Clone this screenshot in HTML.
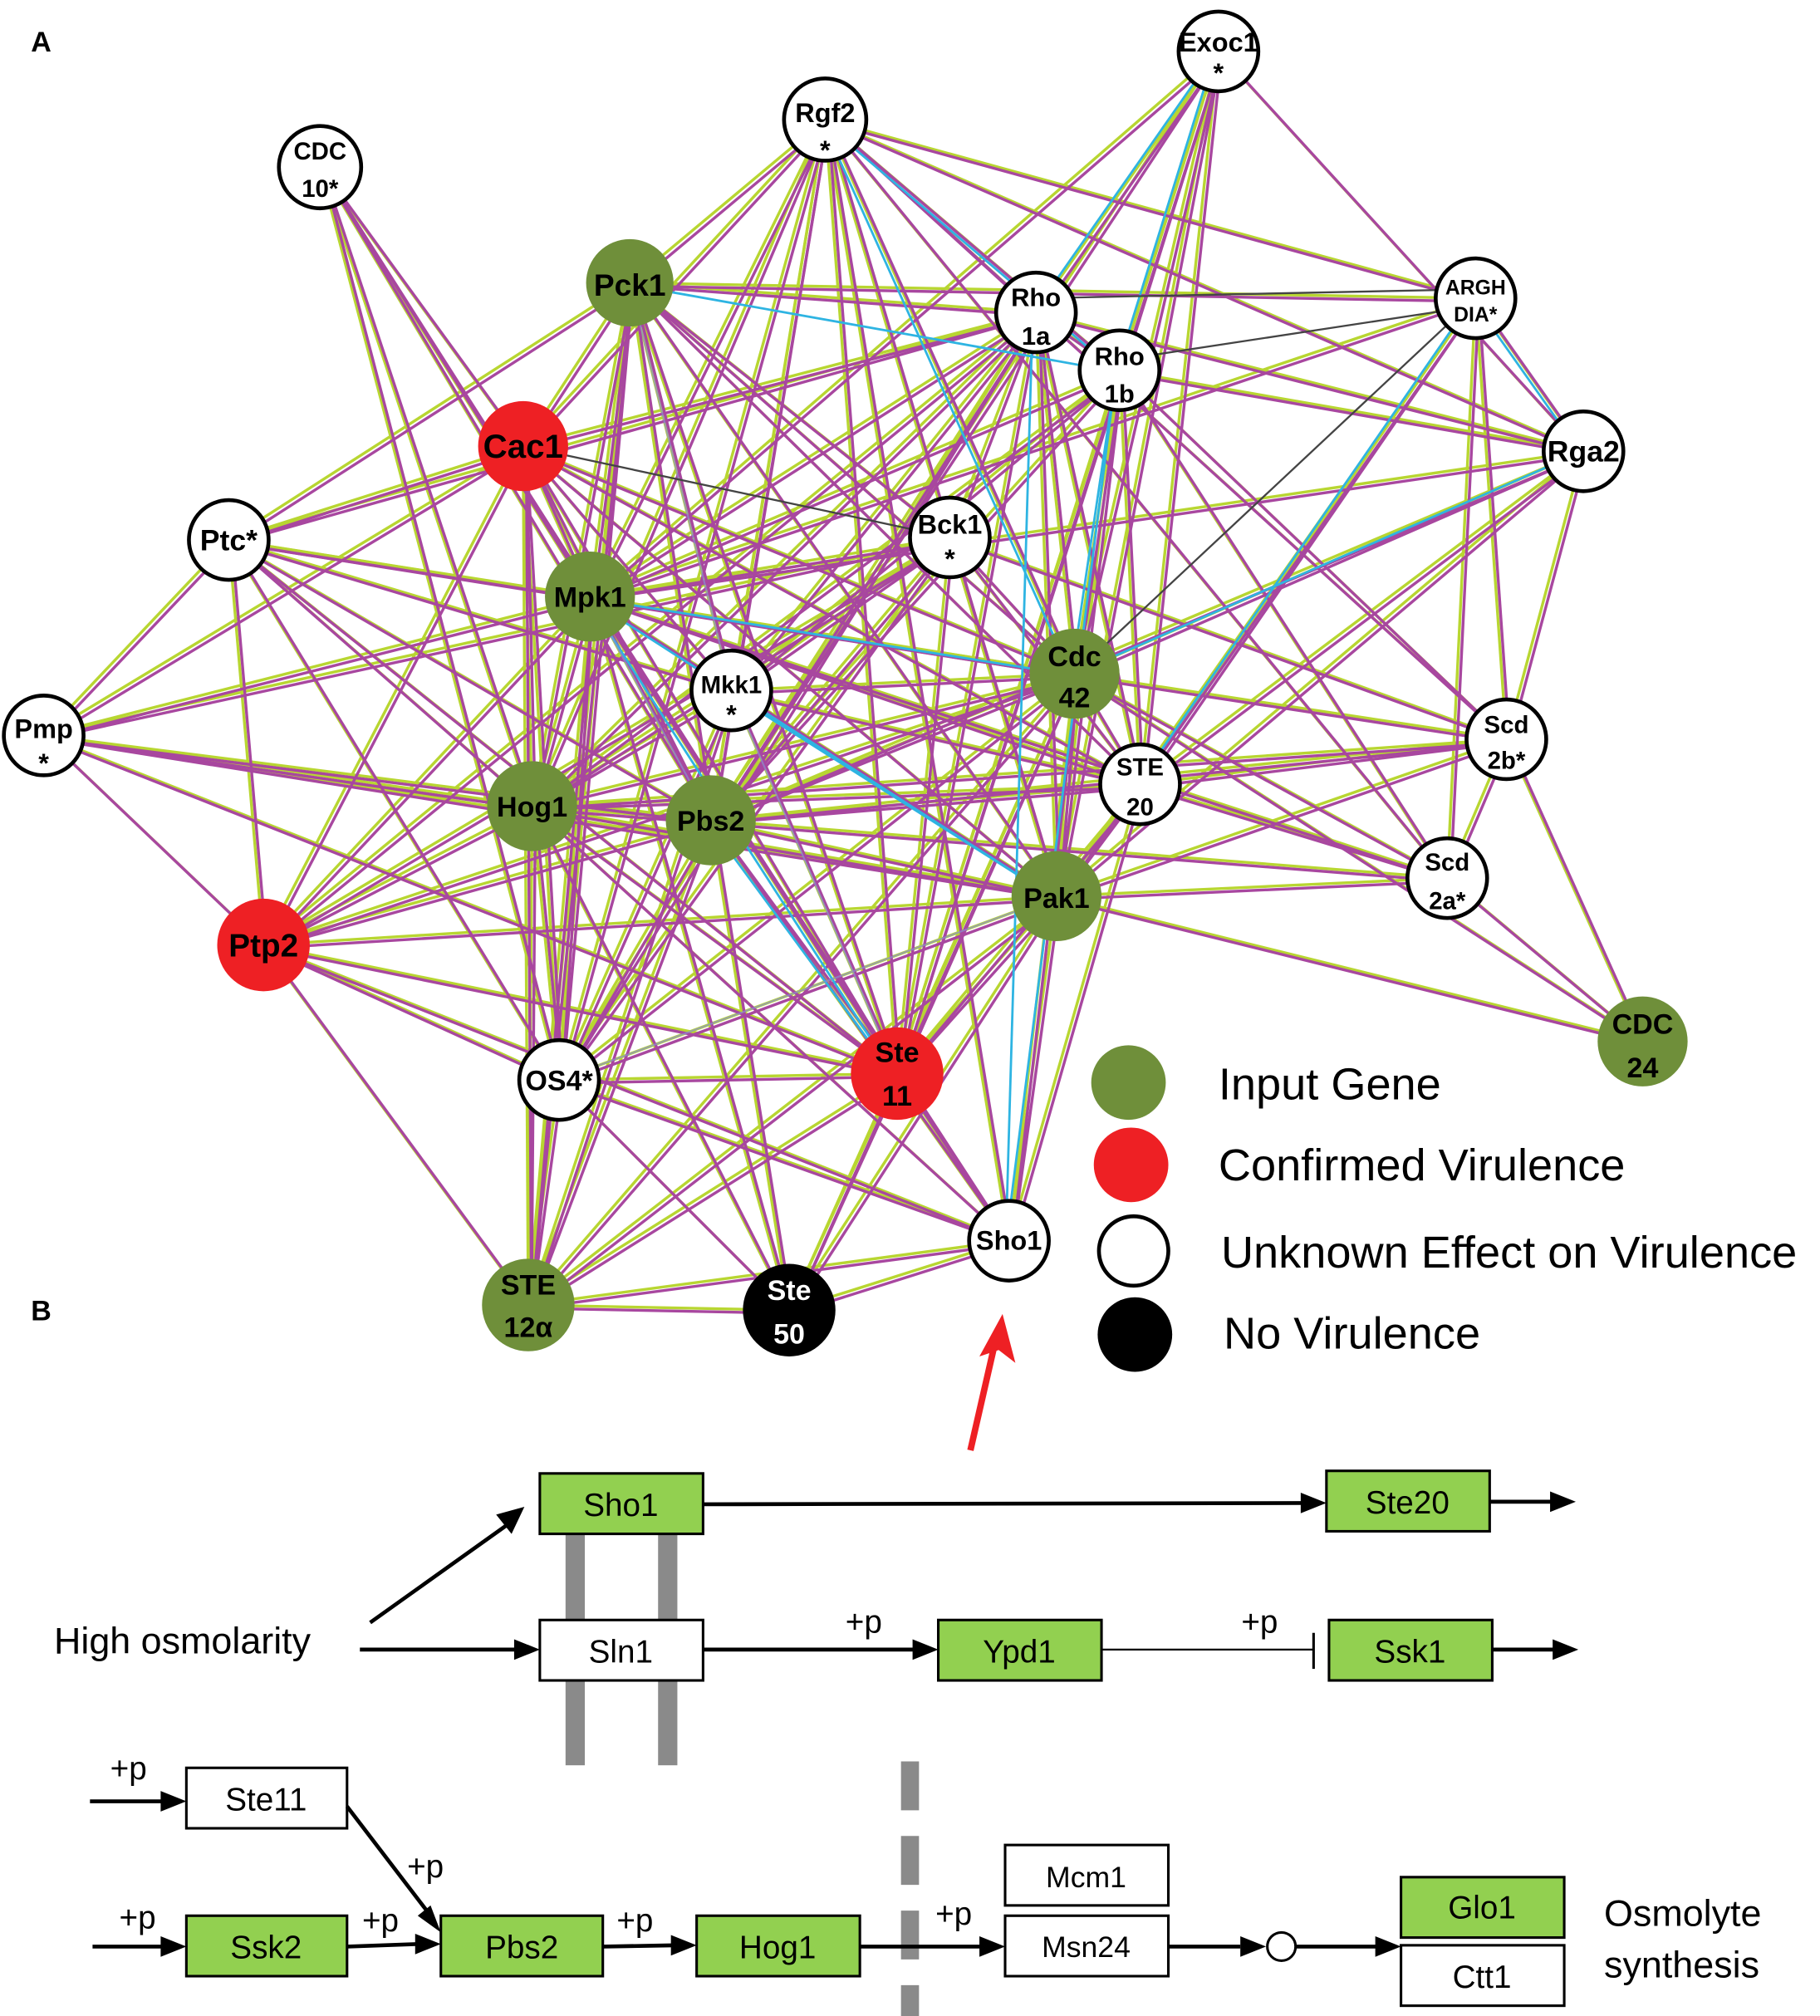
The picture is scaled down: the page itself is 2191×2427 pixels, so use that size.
<!DOCTYPE html>
<html><head><meta charset="utf-8"><style>html,body{margin:0;padding:0;background:#fff}svg{display:block}</style></head>
<body>
<svg width="2191" height="2427" viewBox="0 0 1416 1568" preserveAspectRatio="none" xmlns="http://www.w3.org/2000/svg" font-family="Liberation Sans, sans-serif">
<defs>
<g id="E">
<line x1="948" y1="40" x2="806" y2="243"/><line x1="948" y1="40" x2="871" y2="288"/><line x1="948" y1="40" x2="836" y2="524"/><line x1="948" y1="40" x2="822" y2="697"/><line x1="948" y1="40" x2="887" y2="610"/><line x1="948" y1="40" x2="459" y2="464"/><line x1="948" y1="40" x2="553" y2="638"/><line x1="948" y1="40" x2="698" y2="835"/><line x1="948" y1="40" x2="1232" y2="351"/>
<line x1="642" y1="93" x2="490" y2="220"/><line x1="642" y1="93" x2="806" y2="243"/><line x1="642" y1="93" x2="871" y2="288"/><line x1="642" y1="93" x2="1232" y2="351"/><line x1="642" y1="93" x2="1148" y2="232"/><line x1="642" y1="93" x2="836" y2="524"/><line x1="642" y1="93" x2="822" y2="697"/><line x1="642" y1="93" x2="459" y2="464"/><line x1="642" y1="93" x2="569" y2="537"/><line x1="642" y1="93" x2="553" y2="638"/><line x1="642" y1="93" x2="414" y2="627"/><line x1="642" y1="93" x2="698" y2="835"/><line x1="642" y1="93" x2="407" y2="347"/><line x1="642" y1="93" x2="785" y2="965"/><line x1="642" y1="93" x2="435" y2="840"/><line x1="642" y1="93" x2="1126" y2="683"/><line x1="642" y1="93" x2="1172" y2="575"/>
<line x1="249" y1="130" x2="407" y2="347"/><line x1="249" y1="130" x2="459" y2="464"/><line x1="249" y1="130" x2="414" y2="627"/><line x1="249" y1="130" x2="553" y2="638"/><line x1="249" y1="130" x2="435" y2="840"/><line x1="249" y1="130" x2="698" y2="835"/>
<line x1="490" y1="220" x2="806" y2="243"/><line x1="490" y1="220" x2="1148" y2="232"/><line x1="490" y1="220" x2="407" y2="347"/><line x1="490" y1="220" x2="459" y2="464"/><line x1="490" y1="220" x2="569" y2="537"/><line x1="490" y1="220" x2="553" y2="638"/><line x1="490" y1="220" x2="414" y2="627"/><line x1="490" y1="220" x2="836" y2="524"/><line x1="490" y1="220" x2="822" y2="697"/><line x1="490" y1="220" x2="698" y2="835"/><line x1="490" y1="220" x2="739" y2="418"/><line x1="490" y1="220" x2="887" y2="610"/><line x1="490" y1="220" x2="435" y2="840"/><line x1="490" y1="220" x2="411" y2="1015"/><line x1="490" y1="220" x2="178" y2="420"/>
<line x1="806" y1="243" x2="871" y2="288"/><line x1="806" y1="243" x2="1232" y2="351"/><line x1="806" y1="243" x2="407" y2="347"/><line x1="806" y1="243" x2="459" y2="464"/><line x1="806" y1="243" x2="569" y2="537"/><line x1="806" y1="243" x2="553" y2="638"/><line x1="806" y1="243" x2="414" y2="627"/><line x1="806" y1="243" x2="836" y2="524"/><line x1="806" y1="243" x2="822" y2="697"/><line x1="806" y1="243" x2="698" y2="835"/><line x1="806" y1="243" x2="435" y2="840"/><line x1="806" y1="243" x2="205" y2="735"/><line x1="806" y1="243" x2="178" y2="420"/><line x1="806" y1="243" x2="887" y2="610"/><line x1="806" y1="243" x2="739" y2="418"/>
<line x1="871" y1="288" x2="1232" y2="351"/><line x1="871" y1="288" x2="836" y2="524"/><line x1="871" y1="288" x2="887" y2="610"/><line x1="871" y1="288" x2="822" y2="697"/><line x1="871" y1="288" x2="459" y2="464"/><line x1="871" y1="288" x2="414" y2="627"/><line x1="871" y1="288" x2="553" y2="638"/><line x1="871" y1="288" x2="698" y2="835"/><line x1="871" y1="288" x2="569" y2="537"/><line x1="871" y1="288" x2="1126" y2="683"/><line x1="871" y1="288" x2="1172" y2="575"/>
<line x1="1148" y1="232" x2="1232" y2="351"/><line x1="1148" y1="232" x2="887" y2="610"/><line x1="1148" y1="232" x2="1172" y2="575"/><line x1="1148" y1="232" x2="1126" y2="683"/><line x1="1148" y1="232" x2="822" y2="697"/><line x1="1148" y1="232" x2="459" y2="464"/>
<line x1="1232" y1="351" x2="836" y2="524"/><line x1="1232" y1="351" x2="887" y2="610"/><line x1="1232" y1="351" x2="1172" y2="575"/><line x1="1232" y1="351" x2="553" y2="638"/><line x1="1232" y1="351" x2="459" y2="464"/><line x1="1232" y1="351" x2="822" y2="697"/>
<line x1="407" y1="347" x2="459" y2="464"/><line x1="407" y1="347" x2="569" y2="537"/><line x1="407" y1="347" x2="414" y2="627"/><line x1="407" y1="347" x2="553" y2="638"/><line x1="407" y1="347" x2="836" y2="524"/><line x1="407" y1="347" x2="822" y2="697"/><line x1="407" y1="347" x2="698" y2="835"/><line x1="407" y1="347" x2="435" y2="840"/><line x1="407" y1="347" x2="178" y2="420"/><line x1="407" y1="347" x2="205" y2="735"/><line x1="407" y1="347" x2="411" y2="1015"/><line x1="407" y1="347" x2="34" y2="572"/><line x1="407" y1="347" x2="887" y2="610"/>
<line x1="178" y1="420" x2="459" y2="464"/><line x1="178" y1="420" x2="414" y2="627"/><line x1="178" y1="420" x2="553" y2="638"/><line x1="178" y1="420" x2="698" y2="835"/><line x1="178" y1="420" x2="836" y2="524"/><line x1="178" y1="420" x2="205" y2="735"/><line x1="178" y1="420" x2="435" y2="840"/><line x1="178" y1="420" x2="34" y2="572"/><line x1="178" y1="420" x2="569" y2="537"/>
<line x1="739" y1="418" x2="459" y2="464"/><line x1="739" y1="418" x2="569" y2="537"/><line x1="739" y1="418" x2="414" y2="627"/><line x1="739" y1="418" x2="553" y2="638"/><line x1="739" y1="418" x2="836" y2="524"/><line x1="739" y1="418" x2="822" y2="697"/><line x1="739" y1="418" x2="698" y2="835"/><line x1="739" y1="418" x2="887" y2="610"/><line x1="739" y1="418" x2="34" y2="572"/><line x1="739" y1="418" x2="205" y2="735"/><line x1="739" y1="418" x2="435" y2="840"/><line x1="739" y1="418" x2="1172" y2="575"/>
<line x1="459" y1="464" x2="569" y2="537"/><line x1="459" y1="464" x2="414" y2="627"/><line x1="459" y1="464" x2="553" y2="638"/><line x1="459" y1="464" x2="836" y2="524"/><line x1="459" y1="464" x2="822" y2="697"/><line x1="459" y1="464" x2="698" y2="835"/><line x1="459" y1="464" x2="887" y2="610"/><line x1="459" y1="464" x2="435" y2="840"/><line x1="459" y1="464" x2="411" y2="1015"/><line x1="459" y1="464" x2="205" y2="735"/><line x1="459" y1="464" x2="34" y2="572"/><line x1="459" y1="464" x2="614" y2="1019"/><line x1="459" y1="464" x2="785" y2="965"/><line x1="459" y1="464" x2="1126" y2="683"/>
<line x1="836" y1="524" x2="569" y2="537"/><line x1="836" y1="524" x2="414" y2="627"/><line x1="836" y1="524" x2="553" y2="638"/><line x1="836" y1="524" x2="822" y2="697"/><line x1="836" y1="524" x2="887" y2="610"/><line x1="836" y1="524" x2="698" y2="835"/><line x1="836" y1="524" x2="1172" y2="575"/><line x1="836" y1="524" x2="1126" y2="683"/><line x1="836" y1="524" x2="1278" y2="810"/><line x1="836" y1="524" x2="435" y2="840"/><line x1="836" y1="524" x2="205" y2="735"/><line x1="836" y1="524" x2="411" y2="1015"/><line x1="836" y1="524" x2="614" y2="1019"/><line x1="836" y1="524" x2="785" y2="965"/>
<line x1="569" y1="537" x2="414" y2="627"/><line x1="569" y1="537" x2="553" y2="638"/><line x1="569" y1="537" x2="822" y2="697"/><line x1="569" y1="537" x2="698" y2="835"/><line x1="569" y1="537" x2="435" y2="840"/><line x1="569" y1="537" x2="411" y2="1015"/><line x1="569" y1="537" x2="887" y2="610"/>
<line x1="34" y1="572" x2="414" y2="627"/><line x1="34" y1="572" x2="553" y2="638"/><line x1="34" y1="572" x2="205" y2="735"/><line x1="34" y1="572" x2="698" y2="835"/><line x1="34" y1="572" x2="822" y2="697"/>
<line x1="1172" y1="575" x2="887" y2="610"/><line x1="1172" y1="575" x2="1126" y2="683"/><line x1="1172" y1="575" x2="1278" y2="810"/><line x1="1172" y1="575" x2="822" y2="697"/><line x1="1172" y1="575" x2="553" y2="638"/><line x1="1172" y1="575" x2="414" y2="627"/>
<line x1="887" y1="610" x2="822" y2="697"/><line x1="887" y1="610" x2="698" y2="835"/><line x1="887" y1="610" x2="785" y2="965"/><line x1="887" y1="610" x2="414" y2="627"/><line x1="887" y1="610" x2="553" y2="638"/><line x1="887" y1="610" x2="1126" y2="683"/>
<line x1="414" y1="627" x2="553" y2="638"/><line x1="414" y1="627" x2="822" y2="697"/><line x1="414" y1="627" x2="698" y2="835"/><line x1="414" y1="627" x2="435" y2="840"/><line x1="414" y1="627" x2="411" y2="1015"/><line x1="414" y1="627" x2="614" y2="1019"/><line x1="414" y1="627" x2="785" y2="965"/><line x1="414" y1="627" x2="205" y2="735"/>
<line x1="553" y1="638" x2="822" y2="697"/><line x1="553" y1="638" x2="698" y2="835"/><line x1="553" y1="638" x2="435" y2="840"/><line x1="553" y1="638" x2="411" y2="1015"/><line x1="553" y1="638" x2="614" y2="1019"/><line x1="553" y1="638" x2="785" y2="965"/><line x1="553" y1="638" x2="205" y2="735"/><line x1="553" y1="638" x2="1126" y2="683"/>
<line x1="1126" y1="683" x2="822" y2="697"/><line x1="1126" y1="683" x2="1278" y2="810"/>
<line x1="822" y1="697" x2="698" y2="835"/><line x1="822" y1="697" x2="435" y2="840"/><line x1="822" y1="697" x2="411" y2="1015"/><line x1="822" y1="697" x2="614" y2="1019"/><line x1="822" y1="697" x2="785" y2="965"/><line x1="822" y1="697" x2="205" y2="735"/><line x1="822" y1="697" x2="1278" y2="810"/>
<line x1="205" y1="735" x2="435" y2="840"/><line x1="205" y1="735" x2="698" y2="835"/><line x1="205" y1="735" x2="411" y2="1015"/><line x1="205" y1="735" x2="785" y2="965"/>
<line x1="698" y1="835" x2="435" y2="840"/><line x1="698" y1="835" x2="411" y2="1015"/><line x1="698" y1="835" x2="614" y2="1019"/><line x1="698" y1="835" x2="785" y2="965"/>
<line x1="435" y1="840" x2="411" y2="1015"/><line x1="435" y1="840" x2="614" y2="1019"/><line x1="435" y1="840" x2="785" y2="965"/>
<line x1="785" y1="965" x2="411" y2="1015"/><line x1="785" y1="965" x2="614" y2="1019"/><line x1="411" y1="1015" x2="614" y2="1019"/>
</g>
<g id="C">
<line x1="948" y1="40" x2="806" y2="243"/><line x1="948" y1="40" x2="871" y2="288"/><line x1="642" y1="93" x2="836" y2="524"/><line x1="642" y1="93" x2="871" y2="288"/><line x1="490" y1="220" x2="871" y2="288"/><line x1="871" y1="288" x2="785" y2="965"/><line x1="806" y1="243" x2="785" y2="965"/><line x1="1148" y1="232" x2="1232" y2="351"/><line x1="1148" y1="232" x2="887" y2="610"/><line x1="1232" y1="351" x2="836" y2="524"/><line x1="459" y1="464" x2="836" y2="524"/><line x1="459" y1="464" x2="822" y2="697"/><line x1="459" y1="464" x2="698" y2="835"/><line x1="569" y1="537" x2="822" y2="697"/><line x1="871" y1="288" x2="836" y2="524"/><line x1="553" y1="638" x2="698" y2="835"/>
</g>
</defs>
<g stroke="#b8d631" stroke-width="2.2" fill="none"><use href="#E"/></g>
<g stroke="#a8479f" stroke-width="2.2" fill="none"><use href="#E" transform="translate(2.5,2.5)"/></g>
<g stroke="#2eb4e2" stroke-width="1.8" fill="none"><use href="#C" transform="translate(-2.5,1)"/></g>
<g stroke="#8b8fd0" stroke-width="1.4" fill="none" opacity="0.7"><line x1="459" y1="464" x2="553" y2="638"/><line x1="490" y1="220" x2="569" y2="537"/><line x1="569" y1="537" x2="698" y2="835"/><line x1="435" y1="840" x2="822" y2="697"/></g>
<g stroke="#444" stroke-width="1.5"><line x1="806" y1="232" x2="1148" y2="225"/><line x1="871" y1="280" x2="1148" y2="238"/><line x1="407" y1="347" x2="739" y2="418"/><line x1="836" y1="524" x2="1148" y2="232"/></g>

<g stroke="#000" stroke-width="3" font-weight="bold" font-size="21" text-anchor="middle">
<circle cx="948" cy="40" r="31" fill="#fff"/><circle cx="642" cy="93" r="32" fill="#fff"/><circle cx="249" cy="130" r="32" fill="#fff"/>
<circle cx="490" cy="220" r="34" fill="#6f8f3a" stroke="none"/>
<circle cx="806" cy="243" r="31" fill="#fff"/><circle cx="1148" cy="232" r="31" fill="#fff"/><circle cx="871" cy="288" r="31" fill="#fff"/><circle cx="1232" cy="351" r="31" fill="#fff"/>
<circle cx="407" cy="347" r="35" fill="#ee2024" stroke="none"/>
<circle cx="178" cy="420" r="31" fill="#fff"/><circle cx="739" cy="418" r="31" fill="#fff"/>
<circle cx="459" cy="464" r="35" fill="#6f8f3a" stroke="none"/><circle cx="836" cy="524" r="35" fill="#6f8f3a" stroke="none"/>
<circle cx="569" cy="537" r="31" fill="#fff"/><circle cx="34" cy="572" r="31" fill="#fff"/><circle cx="1172" cy="575" r="31" fill="#fff"/><circle cx="887" cy="610" r="31" fill="#fff"/>
<circle cx="414" cy="627" r="35" fill="#6f8f3a" stroke="none"/><circle cx="553" cy="638" r="35" fill="#6f8f3a" stroke="none"/>
<circle cx="1126" cy="683" r="31" fill="#fff"/>
<circle cx="822" cy="697" r="35" fill="#6f8f3a" stroke="none"/><circle cx="205" cy="735" r="36" fill="#ee2024" stroke="none"/>
<circle cx="1278" cy="810" r="35" fill="#6f8f3a" stroke="none"/><circle cx="698" cy="835" r="36" fill="#ee2024" stroke="none"/>
<circle cx="435" cy="840" r="31" fill="#fff"/><circle cx="785" cy="965" r="31" fill="#fff"/>
<circle cx="411" cy="1015" r="36" fill="#6f8f3a" stroke="none"/><circle cx="614" cy="1019" r="36" fill="#000" stroke="none"/>
</g>
<g font-weight="bold" font-size="21" text-anchor="middle" fill="#000">
<text x="948" y="40">Exoc1</text><text x="948" y="64">*</text>
<text x="642" y="95">Rgf2</text><text x="642" y="124">*</text>
<text x="249" y="124" font-size="19">CDC</text><text x="249" y="153" font-size="19">10*</text>
<text x="490" y="230" font-size="24">Pck1</text>
<text x="806" y="238" font-size="20">Rho</text><text x="806" y="268" font-size="20">1a</text>
<text x="1148" y="229" font-size="16">ARGH</text><text x="1148" y="250" font-size="16">DIA*</text>
<text x="871" y="284" font-size="20">Rho</text><text x="871" y="313" font-size="20">1b</text>
<text x="1232" y="359" font-size="23">Rga2</text>
<text x="407" y="356" font-size="26">Cac1</text>
<text x="178" y="428" font-size="23">Ptc*</text>
<text x="739" y="415" font-size="21">Bck1</text><text x="739" y="442">*</text>
<text x="459" y="472" font-size="22">Mpk1</text>
<text x="836" y="518" font-size="22">Cdc</text><text x="836" y="550" font-size="22">42</text>
<text x="569" y="539" font-size="19">Mkk1</text><text x="569" y="563">*</text>
<text x="34" y="574" font-size="21">Pmp</text><text x="34" y="601">*</text>
<text x="1172" y="570" font-size="19">Scd</text><text x="1172" y="598" font-size="19">2b*</text>
<text x="887" y="603" font-size="19">STE</text><text x="887" y="634" font-size="19">20</text>
<text x="414" y="635" font-size="22">Hog1</text><text x="553" y="646" font-size="22">Pbs2</text>
<text x="1126" y="677" font-size="19">Scd</text><text x="1126" y="707" font-size="19">2a*</text>
<text x="822" y="706" font-size="22">Pak1</text>
<text x="205" y="744" font-size="25">Ptp2</text>
<text x="1278" y="804" font-size="22">CDC</text><text x="1278" y="838" font-size="22">24</text>
<text x="698" y="826" font-size="22">Ste</text><text x="698" y="860" font-size="22">11</text>
<text x="435" y="848" font-size="22">OS4*</text>
<text x="785" y="972" font-size="21">Sho1</text>
<text x="411" y="1007" font-size="22">STE</text><text x="411" y="1040" font-size="22">12α</text>
<text x="614" y="1011" font-size="22" fill="#fff">Ste</text><text x="614" y="1045" font-size="22" fill="#fff">50</text>
<text x="32" y="40" font-size="22">A</text><text x="32" y="1027" font-size="22">B</text>
</g>
<circle cx="878" cy="842" r="29" fill="#6f8f3a"/><circle cx="880" cy="906" r="29" fill="#ee2024"/><circle cx="882" cy="973" r="27" fill="#fff" stroke="#000" stroke-width="3"/><circle cx="883" cy="1038" r="29" fill="#000"/>
<g font-size="35" fill="#000"><text x="948" y="855">Input Gene</text><text x="948" y="918">Confirmed Virulence</text><text x="950" y="986">Unknown Effect on Virulence</text><text x="952" y="1049">No Virulence</text></g>
<line x1="755" y1="1128" x2="774" y2="1045" stroke="#ee2024" stroke-width="5"/><polygon points="780,1022 790,1060 777,1050 762,1055" fill="#ee2024"/>
<g fill="#8a8a8a"><rect x="440" y="1193" width="15" height="180"/><rect x="512" y="1193" width="15" height="180"/></g>
<line x1="708" y1="1370" x2="708" y2="1568" stroke="#8a8a8a" stroke-width="14" stroke-dasharray="38,20"/>
<g stroke="#000" stroke-width="2">
<rect x="420" y="1146" width="127" height="47" fill="#92d050"/><rect x="1032" y="1144" width="127" height="47" fill="#92d050"/>
<rect x="420" y="1260" width="127" height="47" fill="#fff"/><rect x="730" y="1260" width="127" height="47" fill="#92d050"/><rect x="1034" y="1260" width="127" height="47" fill="#92d050"/>
<rect x="145" y="1375" width="125" height="47" fill="#fff"/><rect x="145" y="1490" width="125" height="47" fill="#92d050"/><rect x="343" y="1490" width="126" height="47" fill="#92d050"/><rect x="542" y="1490" width="127" height="47" fill="#92d050"/>
<rect x="782" y="1435" width="127" height="47" fill="#fff"/><rect x="782" y="1490" width="127" height="47" fill="#fff"/>
<rect x="1090" y="1460" width="127" height="47" fill="#92d050"/><rect x="1090" y="1513" width="127" height="47" fill="#fff"/>
</g>
<g stroke="#000" stroke-width="3" fill="none">
<line x1="547" y1="1170" x2="1014" y2="1169"/><line x1="1159" y1="1168" x2="1208" y2="1168"/>
<line x1="288" y1="1262" x2="396" y2="1185"/><line x1="280" y1="1283" x2="402" y2="1283"/>
<line x1="547" y1="1283" x2="712" y2="1283"/><line x1="857" y1="1283" x2="1022" y2="1283" stroke-width="1.5"/><line x1="1022" y1="1270" x2="1022" y2="1298" stroke-width="2"/>
<line x1="1161" y1="1283" x2="1210" y2="1283"/>
<line x1="70" y1="1401" x2="128" y2="1401"/><line x1="72" y1="1514" x2="128" y2="1514"/>
<line x1="270" y1="1514" x2="326" y2="1512"/><line x1="270" y1="1405" x2="335" y2="1490"/>
<line x1="469" y1="1514" x2="525" y2="1513"/><line x1="669" y1="1514" x2="765" y2="1514"/>
<line x1="909" y1="1514" x2="965" y2="1514"/><circle cx="997" cy="1514" r="11" stroke-width="2"/><line x1="1008" y1="1514" x2="1072" y2="1514"/>
</g>
<g fill="#000">
<polygon points="1032,1169 1012,1161 1012,1177"/><polygon points="1226,1168 1206,1160 1206,1176"/>
<polygon points="408,1172 386,1178 398,1193"/><polygon points="420,1283 400,1275 400,1291"/>
<polygon points="730,1283 710,1275 710,1291"/><polygon points="1228,1283 1208,1275 1208,1291"/>
<polygon points="145,1401 125,1393 125,1409"/><polygon points="145,1514 125,1506 125,1522"/>
<polygon points="343,1512 323,1504 323,1520"/><polygon points="343,1503 325,1490 335,1482"/>
<polygon points="542,1513 522,1505 522,1521"/><polygon points="782,1514 762,1506 762,1522"/>
<polygon points="985,1514 965,1506 965,1522"/><polygon points="1090,1514 1070,1506 1070,1522"/>
</g>
<g font-size="25" fill="#000" text-anchor="middle">
<text x="483" y="1179">Sho1</text><text x="1095" y="1177">Ste20</text><text x="483" y="1293">Sln1</text><text x="793" y="1293">Ypd1</text><text x="1097" y="1293">Ssk1</text>
<text x="207" y="1408">Ste11</text><text x="207" y="1523">Ssk2</text><text x="406" y="1523">Pbs2</text><text x="605" y="1523">Hog1</text>
<text x="845" y="1468" font-size="23">Mcm1</text><text x="845" y="1522" font-size="23">Msn24</text><text x="1153" y="1492">Glo1</text><text x="1153" y="1546">Ctt1</text>
<text x="672" y="1270">+p</text><text x="980" y="1270">+p</text><text x="100" y="1384">+p</text><text x="107" y="1500">+p</text><text x="296" y="1502">+p</text><text x="331" y="1460">+p</text><text x="494" y="1502">+p</text><text x="742" y="1497">+p</text>
</g>
<g font-size="29" fill="#000"><text x="42" y="1286">High osmolarity</text><text x="1248" y="1498">Osmolyte</text><text x="1248" y="1538">synthesis</text></g>
</svg>
</body></html>
